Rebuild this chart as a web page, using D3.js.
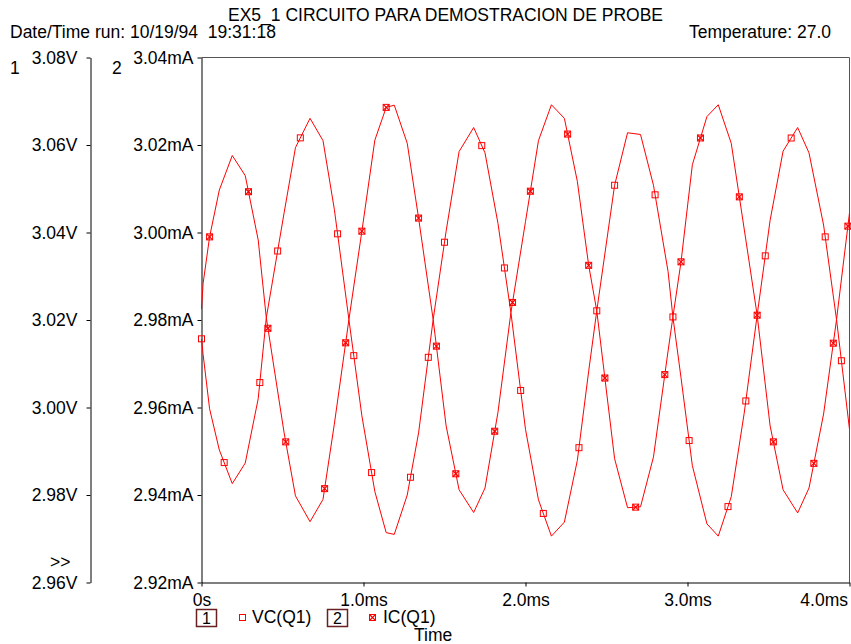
<!DOCTYPE html>
<html>
<head>
<meta charset="utf-8">
<script src="https://cdn.jsdelivr.net/npm/d3@7"></script>
<style>
body { margin: 0; background: #fff; }
svg { display: block; }
</style>
</head>
<body>
<script>
// transient samples, time in ms
const timeMs = [0, 0.01, 0.05, 0.11, 0.19, 0.27, 0.35, 0.40, 0.51, 0.58, 0.67, 0.75, 0.82, 0.91, 0.99,
    1.07, 1.14, 1.19, 1.27, 1.34, 1.43, 1.51, 1.59, 1.68, 1.75, 1.83, 1.91,
    2.00, 2.08, 2.16, 2.24, 2.32, 2.39, 2.44, 2.55, 2.63, 2.71, 2.79, 2.88, 2.91, 2.96,
    3.03, 3.12, 3.19, 3.27, 3.35, 3.43, 3.51, 3.59, 3.68, 3.75, 3.84, 3.92, 4.00]

const vcVolts = [3.0157, 3.0121, 2.9997, 2.9903, 2.9826, 2.9873, 3.0020, 3.0205, 3.0445, 3.0594, 3.0661, 3.0610, 3.0453, 3.0201, 2.9981,
    2.9808, 2.9714, 2.9710, 2.9800, 2.9942, 3.0201, 3.0403, 3.0585, 3.0640, 3.0582, 3.0421, 3.0217,
    2.9950, 2.9789, 2.9706, 2.9738, 2.9879, 3.0083, 3.0221, 3.0508, 3.0628, 3.0624, 3.0508, 3.0311, 3.0207, 3.0068,
    2.9867, 2.9734, 2.9706, 2.9796, 2.9987, 3.0211, 3.0428, 3.0586, 3.0640, 3.0582, 3.0417, 3.0201, 2.9950]

const icMilliamps = [2.9825, 2.9884, 2.9990, 3.0097, 3.0176, 3.0130, 2.9983, 2.9805, 2.9542, 2.9398, 2.9339, 2.9390, 2.9562, 2.9801, 3.0003,
    3.0211, 3.0286, 3.0291, 3.0204, 3.0033, 2.9801, 2.9558, 2.9412, 2.9360, 2.9416, 2.9589, 2.9817,
    3.0025, 3.0210, 3.0292, 3.0261, 3.0117, 2.9925, 2.9821, 2.9483, 2.9371, 2.9373, 2.9487, 2.9729, 2.9807, 2.9933,
    3.0155, 3.0265, 3.0292, 3.0204, 3.0008, 2.9811, 2.9558, 2.9412, 2.9359, 2.9416, 2.9585, 2.9801, 3.0045]

const vcMarkerMs = [0, 0.14, 0.36, 0.47, 0.61, 0.84, 0.94, 1.05, 1.29, 1.40, 1.50, 1.73, 1.87, 1.97, 2.11,
    2.33, 2.44, 2.55, 2.80, 2.91, 3.01, 3.25, 3.36, 3.48, 3.64, 3.85, 3.95]
const icMarkerMs = [0.05, 0.29, 0.41, 0.52, 0.76, 0.89, 0.99, 1.14, 1.34, 1.45, 1.57, 1.81, 1.92, 2.03,
    2.26, 2.39, 2.49, 2.68, 2.86, 2.96, 3.08, 3.32, 3.43, 3.53, 3.78, 3.90, 3.99]

const timeTicks = [0, 1, 2, 3, 4]
const timeTickLabels = ['0s', '1.0ms', '2.0ms', '3.0ms', '4.0ms']
const voltTicks = [2.96, 2.98, 3.00, 3.02, 3.04, 3.06, 3.08]
const voltTickLabels = ['2.96V', '2.98V', '3.00V', '3.02V', '3.04V', '3.06V', '3.08V']
const ampTicks = [2.92, 2.94, 2.96, 2.98, 3.00, 3.02, 3.04]
const ampTickLabels = ['2.92mA', '2.94mA', '2.96mA', '2.98mA', '3.00mA', '3.02mA', '3.04mA']
const traceNames = ['VC(Q1)', 'IC(Q1)']

const titleText = 'EX5_1 CIRCUITO PARA DEMOSTRACION DE PROBE'
const runText = 'Date/Time run: 10/19/94  19:31:18'
const tempText = 'Temperature: 27.0'

var font = "'Liberation Sans', Arial, sans-serif"
var fontSize = 17.5
var red = '#ff0000'
var boxColor = '#6a2020'
var frameColor = '#555'

const svg = d3.select('body').append('svg')
    .attr('width', 851)
    .attr('height', 644)
    .attr('font-family', font)
    .attr('font-size', fontSize)

var x = d3.scaleLinear().domain([0, 4]).range([201.5, 849.5])
var yAmp = d3.scaleLinear().domain([2.92, 3.04]).range([582.5, 57.5])
var yVolt = d3.scaleLinear().domain([2.96, 3.08]).range([582.5, 57.5])

// header
svg.append('text').attr('x', 228).attr('y', 21).text(titleText)
svg.append('text').attr('x', 10).attr('y', 38).style('white-space', 'pre').text(runText)
svg.append('text').attr('x', 831).attr('y', 38).attr('text-anchor', 'end').text(tempText)

// frame top and right
svg.append('path')
    .attr('d', 'M' + x(0) + ',' + yAmp(3.04) + 'H' + x(4) + 'V' + yAmp(2.92))
    .attr('fill', 'none')
    .attr('stroke', frameColor)

function styleAxis(g) {
    g.attr('font-size', null).attr('font-family', null)
    g.selectAll('text').attr('font-family', font).attr('font-size', fontSize).attr('fill', '#000')
    g.selectAll('line').attr('stroke', '#000')
    g.select('.domain').attr('stroke', '#000')
}

var voltAxis = svg.append('g')
    .attr('transform', 'translate(90.5,0)')
    .call(d3.axisLeft(yVolt).tickValues(voltTicks).tickFormat((d, i) => voltTickLabels[i])
        .tickSize(4).tickSizeOuter(0).tickPadding(9))
styleAxis(voltAxis)

var ampAxis = svg.append('g')
    .attr('transform', 'translate(' + x(0) + ',0)')
    .call(d3.axisLeft(yAmp).tickValues(ampTicks).tickFormat((d, i) => ampTickLabels[i])
        .tickSize(4).tickSizeOuter(0).tickPadding(4))
styleAxis(ampAxis)

var timeAxis = svg.append('g')
    .attr('transform', 'translate(0,' + yAmp(2.92) + ')')
    .call(d3.axisBottom(x).tickValues(timeTicks).tickFormat((d, i) => timeTickLabels[i])
        .tickSize(4).tickSizeOuter(0).tickPadding(7))
styleAxis(timeAxis)
timeAxis.selectAll('.tick').filter((d, i) => i == timeTicks.length - 1)
    .select('text').attr('text-anchor', 'end').attr('x', -2)

svg.append('text').attr('x', 10).attr('y', 74).text('1')
svg.append('text').attr('x', 112).attr('y', 74).text('2')
svg.append('text').attr('x', 50).attr('y', 568).text('>>')

// traces
var vcLine = d3.line().x((d, i) => x(timeMs[i])).y(d => yVolt(d))
var icLine = d3.line().x((d, i) => x(timeMs[i])).y(d => yAmp(d))

var plot = svg.append('g')

plot.append('path')
    .attr('d', vcLine(vcVolts))
    .attr('fill', 'none')
    .attr('stroke', red)
    .attr('stroke-width', 1)

plot.append('path')
    .attr('d', icLine(icMilliamps))
    .attr('fill', 'none')
    .attr('stroke', red)
    .attr('stroke-width', 1)

function valueAt(values, t) {
    var i = d3.bisectRight(timeMs, t)
    if (i <= 0) return values[0]
    if (i >= timeMs.length) return values[values.length - 1]
    var t0 = timeMs[i - 1], t1 = timeMs[i]
    return values[i - 1] + (values[i] - values[i - 1]) * (t - t0) / (t1 - t0)
}

function squareMarker(g, cx, cy) {
    g.append('rect')
        .attr('x', cx - 3)
        .attr('y', cy - 3)
        .attr('width', 6)
        .attr('height', 6)
        .attr('fill', 'none')
        .attr('stroke', red)
        .attr('stroke-width', 1)
}

function crossMarker(g, cx, cy) {
    squareMarker(g, cx, cy)
    g.append('path')
        .attr('d', 'M' + (cx - 3) + ',' + (cy - 3) + 'L' + (cx + 3) + ',' + (cy + 3) +
            'M' + (cx - 3) + ',' + (cy + 3) + 'L' + (cx + 3) + ',' + (cy - 3))
        .attr('stroke', red)
        .attr('stroke-width', 1.2)
}

vcMarkerMs.forEach(t => squareMarker(plot, x(t), yVolt(valueAt(vcVolts, t))))
icMarkerMs.forEach(t => crossMarker(plot, x(t), yAmp(valueAt(icMilliamps, t))))

// legend
var legend = svg.append('g')

legend.append('rect')
    .attr('x', 196.5).attr('y', 609.5).attr('width', 20).attr('height', 17)
    .attr('fill', 'none').attr('stroke', boxColor).attr('stroke-width', 1.5)
legend.append('text').attr('x', 206.5).attr('y', 624).attr('text-anchor', 'middle')
    .attr('font-size', 16).text('1')
squareMarker(legend, 242.5, 617.5)
legend.append('text').attr('x', 252).attr('y', 623).text(traceNames[0])

legend.append('rect')
    .attr('x', 327.5).attr('y', 609.5).attr('width', 20).attr('height', 17)
    .attr('fill', 'none').attr('stroke', boxColor).attr('stroke-width', 1.5)
legend.append('text').attr('x', 337.5).attr('y', 624).attr('text-anchor', 'middle')
    .attr('font-size', 16).text('2')
crossMarker(legend, 372.5, 617.5)
legend.append('text').attr('x', 383).attr('y', 623).text(traceNames[1])

svg.append('text').attr('x', 414).attr('y', 641).text('Time')
</script>
</body>
</html>
